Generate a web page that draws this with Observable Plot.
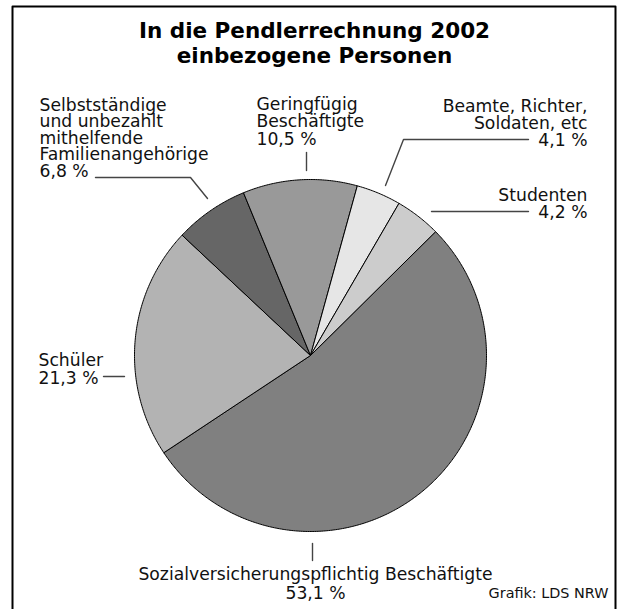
<!DOCTYPE html>
<html><head><meta charset="utf-8">
<script src="https://cdn.jsdelivr.net/npm/d3@7"></script>
<script src="https://cdn.jsdelivr.net/npm/@observablehq/plot@0.6"></script>
<style>body{margin:0;background:#fff} svg{display:block}</style>
</head><body><div id="chart"></div>
<script>
// ---- data ----
const categories = ["Sozialversicherungspflichtig Beschäftigte", "Schüler", "Selbstständige und unbezahlt mithelfende Familienangehörige", "Geringfügig Beschäftigte", "Beamte, Richter, Soldaten, etc", "Studenten"];
const values = [53.1, 21.3, 6.8, 10.5, 4.1, 4.2];
const labelLines = [
  ["Sozialversicherungspflichtig Beschäftigte"],
  ["Schüler"],
  ["Selbstständige", "und unbezahlt", "mithelfende", "Familienangehörige"],
  ["Geringfügig", "Beschäftigte"],
  ["Beamte, Richter,", "Soldaten, etc"],
  ["Studenten"]
];
const title = ["In die Pendlerrechnung 2002", "einbezogene Personen"];
const source = "Grafik: LDS NRW";

// ---- style / layout ----
const colors = ["#808080", "#b3b3b3", "#666666", "#999999", "#e6e6e6", "#cccccc"];
const W = 617, H = 609, cx = 310, cy = 355, R = 176;
const startAngle = 45.3 * Math.PI / 180;
const FONT = "'DejaVu Sans', sans-serif";
const fs = 17.2, lineH = 16.6;
const labelLayout = [
  {x: 315, y: 579, anchor: "middle", lh: 19},
  {x: 38, y: 365, anchor: "start", lh: 18},
  {x: 39, y: 110, anchor: "start", lh: lineH},
  {x: 256, y: 109, anchor: "start", lh: 17.5},
  {x: 587, y: 111, anchor: "end", lh: 17},
  {x: 587, y: 200, anchor: "end", lh: 17}
];
const leaders = [
  [[312, 543], [312, 560]],
  [[103, 376], [124, 376]],
  [[95, 177], [190, 177], [207, 198]],
  [[306, 152], [306, 170]],
  [[528, 139], [403, 139], [385, 185]],
  [[528, 211], [431, 211]]
];

// ---- build geometry ----
const arcs = d3.pie().sort(null).startAngle(startAngle).endAngle(startAngle + 2 * Math.PI)(values);
const slicePts = [];
arcs.forEach((a, i) => {
  const n = Math.max(2, Math.ceil((a.endAngle - a.startAngle) / 0.01));
  slicePts.push({i, x: cx, y: cy});
  for (let k = 0; k <= n; k++) {
    const t = a.startAngle + (a.endAngle - a.startAngle) * k / n;
    slicePts.push({i, x: cx + R * Math.sin(t), y: cy - R * Math.cos(t)});
  }
  slicePts.push({i, x: cx, y: cy});
});

const fmt = v => v.toFixed(1).replace(".", ",") + " %";
const textRows = [];
categories.forEach((c, i) => {
  const L = labelLayout[i];
  const lines = labelLines[i].concat([fmt(values[i])]);
  lines.forEach((t, k) => textRows.push({text: t, x: L.x, y: L.y + k * L.lh, anchor: L.anchor}));
});
const leaderPts = leaders.flatMap((pts, i) => pts.map(([x, y]) => ({i, x, y})));
const framePts = [[12, 609], [12, 6], [615, 6], [615, 609]].map(([x, y]) => ({x, y}));
const titleRows = title.map((t, k) => ({text: t, x: 314, y: 37 + k * 25}));

const textMark = (anchor) => Plot.text(textRows.filter(d => d.anchor === anchor), {
  x: "x", y: "y", text: "text", textAnchor: anchor, lineAnchor: "bottom",
  fontSize: fs, fill: "#111"
});

const chart = Plot.plot({
  width: W, height: H, margin: 0,
  x: {type: "identity", axis: null}, y: {type: "identity", axis: null},
  color: {type: "identity"},
  style: {fontFamily: FONT, background: "white"},
  marks: [
    Plot.line(slicePts, {x: "x", y: "y", z: "i", fill: d => colors[d.i], stroke: "black", strokeWidth: 1, strokeLinejoin: "round"}),
    Plot.line(leaderPts, {x: "x", y: "y", z: "i", stroke: "#444", strokeWidth: 1.4}),
    Plot.line(framePts, {x: "x", y: "y", stroke: "black", strokeWidth: 2}),
    textMark("start"), textMark("middle"), textMark("end"),
    Plot.text(titleRows, {x: "x", y: "y", text: "text", textAnchor: "middle", lineAnchor: "bottom", fontSize: 21.5, fontWeight: "bold", fill: "black"}),
    Plot.text([source], {x: () => 608, y: () => 597, text: d => d, textAnchor: "end", lineAnchor: "bottom", fontSize: 14.4, fill: "#111"})
  ]
});
document.getElementById("chart").appendChild(chart);
</script>
</body></html>
